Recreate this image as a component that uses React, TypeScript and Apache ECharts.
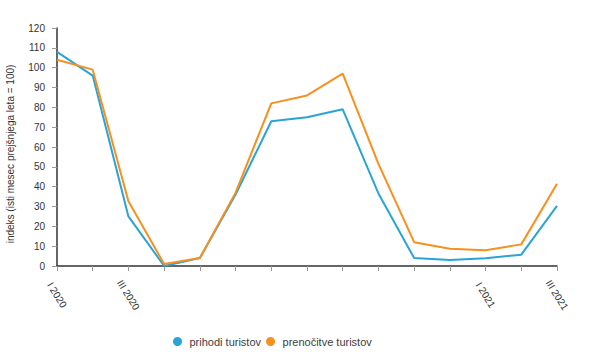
import React, { useEffect, useRef } from "react";
import * as echarts from "echarts";

const categories = [
  "I 2020", "II 2020", "III 2020", "IV 2020", "V 2020", "VI 2020", "VII 2020",
  "VIII 2020", "IX 2020", "X 2020", "XI 2020", "XII 2020", "I 2021", "II 2021", "III 2021",
];
const shownLabels = ["I 2020", "III 2020", "I 2021", "III 2021"];
const prihodi = [108, 96, 25, 0, 4, 36, 73, 75, 79, 36.6, 4, 3, 3.9, 5.7, 30.3];
const prenocitve = [104, 99, 32.6, 1, 4, 37, 82, 86, 97, 51.5, 12, 8.7, 7.9, 10.9, 41.5];
const seriesNames = ["prihodi turistov", "prenočitve turistov"];
const colors = ["#2aa3d6", "#f7901e"];

export default function App() {
  const ref = useRef<HTMLDivElement>(null);
  useEffect(() => {
    if (!ref.current) return;
    const chart = echarts.init(ref.current, undefined, { renderer: "svg" });
    const font = "'Liberation Sans', Arial, sans-serif";
    chart.setOption({
      animation: false,
      textStyle: { fontFamily: font },
      grid: {
        left: 57,
        right: 36,
        top: 28,
        bottom: 87,
        containLabel: false,
        outerBoundsMode: "none",
      },
      legend: {
        left: 168,
        top: 331,
        itemWidth: 14,
        itemHeight: 9,
        itemGap: 5,
        icon: "circle",
        textStyle: { fontSize: 11, color: "#404040", fontFamily: font },
        data: seriesNames,
      },
      xAxis: {
        type: "category",
        data: categories,
        boundaryGap: false,
        axisLine: { lineStyle: { color: "#333", width: 1.5 } },
        axisTick: { show: true, length: 5, interval: 0, lineStyle: { color: "#999" } },
        axisLabel: {
          interval: 0,
          rotate: -58,
          fontSize: 10,
          color: "#333",
          margin: 29,
          align: "center",
          verticalAlign: "middle",
          formatter: (v: string) => (shownLabels.includes(v) ? v : ""),
        },
      },
      yAxis: {
        type: "value",
        min: 0,
        max: 120,
        interval: 10,
        name: "indeks (isti mesec prejšnjega leta = 100)",
        nameLocation: "middle",
        nameGap: 42,
        nameRotate: 90,
        nameTextStyle: { fontSize: 10, color: "#333", fontFamily: font, padding: [0, 14, 0, 0] },
        splitLine: { show: false },
        axisLine: { show: true, lineStyle: { color: "#333", width: 1.5 } },
        axisTick: { show: true, length: 5, lineStyle: { color: "#999" } },
        axisLabel: { fontSize: 10, color: "#333", margin: 12 },
      },
      series: [
        {
          name: seriesNames[0],
          type: "line",
          data: prihodi,
          symbol: "none",
          lineStyle: { width: 2, color: colors[0] },
          itemStyle: { color: colors[0] },
        },
        {
          name: seriesNames[1],
          type: "line",
          data: prenocitve,
          symbol: "none",
          lineStyle: { width: 2, color: colors[1] },
          itemStyle: { color: colors[1] },
        },
      ],
    });
    return () => chart.dispose();
  }, []);
  return <div ref={ref} style={{ width: 593, height: 353, position: "absolute", left: 0, top: 0 }} />;
}
